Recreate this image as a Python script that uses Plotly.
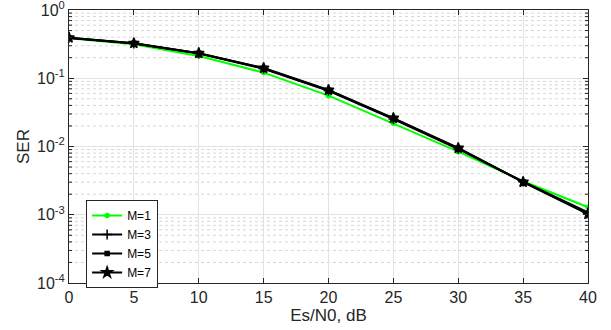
import plotly.graph_objects as go

snr_db = [0, 5, 10, 15, 20, 25, 30, 35, 40]
ser_m1 = [0.385, 0.315, 0.212, 0.121, 0.0556, 0.0219, 0.0084, 0.00310, 0.00129]
ser_m3 = [0.390, 0.323, 0.230, 0.138, 0.0655, 0.0252, 0.0092, 0.00305, 0.00108]
ser_m5 = [0.392, 0.325, 0.232, 0.140, 0.0665, 0.0257, 0.0094, 0.00303, 0.00104]
ser_m7 = [0.393, 0.326, 0.233, 0.141, 0.0672, 0.0261, 0.0095, 0.00302, 0.00102]
names = ["M=1", "M=3", "M=5", "M=7"]
x_ticks = [0, 5, 10, 15, 20, 25, 30, 35, 40]
y_ticks = [1e-4, 1e-3, 1e-2, 1e-1, 1]
y_tick_text = ["10<sup>-4</sup>", "10<sup>-3</sup>", "10<sup>-2</sup>", "10<sup>-1</sup>", "10<sup>0</sup>"]
decades = [1e-4, 1e-3, 1e-2, 1e-1]
minor_mult = [2, 3, 4, 5, 6, 7, 8, 9]

series = [ser_m1, ser_m3, ser_m5, ser_m7]
colors = ["#00ff00", "black", "black", "black"]
symbols = ["circle", "cross-thin", "square", "star"]
sizes = [4, 7, 4, 8]

fig = go.Figure()
for name, ys, c, s, sz in zip(names, series, colors, symbols, sizes):
    fig.add_trace(go.Scatter(
        x=snr_db, y=ys, name=name, mode="lines+markers",
        line=dict(color=c, width=2),
        marker=dict(symbol=s, size=sz, color=c, line=dict(color=c, width=1.5)),
    ))

# minor grid lines and ticks (log decades)
shapes = []
for d in decades:
    for m in minor_mult:
        v = d * m
        shapes.append(dict(type="line", xref="paper", yref="y", x0=0, x1=1, y0=v, y1=v,
                           line=dict(color="#d6d6d6", width=1, dash="dot"), layer="below"))
        shapes.append(dict(type="line", xref="paper", yref="y", x0=0, x1=0.006, y0=v, y1=v,
                           line=dict(color="#262626", width=1), layer="above"))
        shapes.append(dict(type="line", xref="paper", yref="y", x0=0.994, x1=1, y0=v, y1=v,
                           line=dict(color="#262626", width=1), layer="above"))

axis_common = dict(
    showline=True, linecolor="#262626", linewidth=1, mirror="allticks",
    ticks="inside", ticklen=5, tickcolor="#262626",
    showgrid=True, gridcolor="#e2e2e2", gridwidth=1,
    zeroline=False, tickfont=dict(size=16, color="#262626"), automargin=False,
    ticklabeloverflow="allow",
)

fig.update_layout(
    width=611, height=330,
    margin=dict(l=69, r=23, t=10, b=47),
    paper_bgcolor="white", plot_bgcolor="white",
    font=dict(family="Liberation Sans, Arial, sans-serif", color="#262626"),
    xaxis=dict(range=[0, 40], tickvals=x_ticks,
               title=dict(text="Es/N0, dB", font=dict(size=17), standoff=1),
               **axis_common),
    yaxis=dict(type="log", range=[-4, 0], tickvals=y_ticks, ticktext=y_tick_text,
               title=dict(text="SER", font=dict(size=17), standoff=3),
               **axis_common),
    legend=dict(x=0.033, y=0.304, xanchor="left", yanchor="top",
                bgcolor="white", bordercolor="#262626", borderwidth=1,
                font=dict(size=12, color="black"), tracegroupgap=0,
                itemwidth=30),
    shapes=shapes,
    showlegend=True,
)

fig.write_html("out.html", config={"displayModeBar": False},
               post_script="document.body.style.margin='0';document.body.style.overflow='hidden';")
